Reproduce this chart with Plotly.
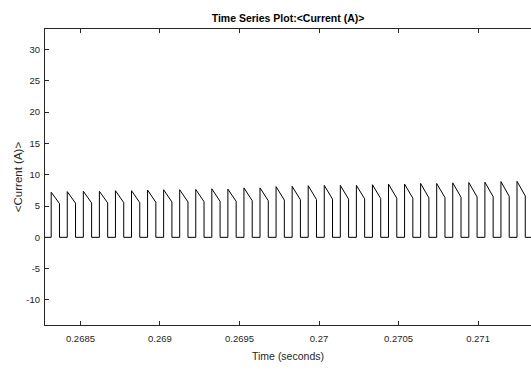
import plotly.graph_objects as go

# Pulse data
pulse_on = [0.268316, 0.268417, 0.268518, 0.268619, 0.268720, 0.268821, 0.268922,
            0.269023, 0.269124, 0.269225, 0.269326, 0.269427, 0.269528, 0.269629,
            0.269730, 0.269831, 0.269932, 0.270033, 0.270134, 0.270235, 0.270336,
            0.270437, 0.270538, 0.270639, 0.270740, 0.270841, 0.270942, 0.271043,
            0.271144, 0.271245]
pulse_off = [0.268368, 0.268469, 0.268570, 0.268671, 0.268772, 0.268873, 0.268974,
             0.269075, 0.269176, 0.269277, 0.269378, 0.269479, 0.269580, 0.269681,
             0.269782, 0.269883, 0.269984, 0.270085, 0.270186, 0.270287, 0.270388,
             0.270489, 0.270590, 0.270691, 0.270792, 0.270893, 0.270994, 0.271095,
             0.271196, 0.271297]
peak_current = [7.2, 7.3, 7.35, 7.35, 7.45, 7.45, 7.55, 7.6, 7.6, 7.65, 7.75, 7.7,
                7.9, 7.9, 8.1, 8.15, 8.25, 8.3, 8.3, 8.3, 8.4, 8.5, 8.5, 8.6, 8.6,
                8.7, 8.75, 8.8, 8.9, 8.95]
end_current = [5.4, 5.45, 5.5, 5.5, 5.55, 5.55, 5.6, 5.65, 5.65, 5.7, 5.75, 5.75,
               5.85, 5.85, 5.95, 6.0, 6.05, 6.1, 6.1, 6.15, 6.2, 6.25, 6.25, 6.3,
               6.35, 6.4, 6.45, 6.5, 6.55, 6.6]
t_start = 0.26827
t_end = 0.27134

x_ticks = [0.2685, 0.269, 0.2695, 0.27, 0.2705, 0.271]
x_tick_labels = ["0.2685", "0.269", "0.2695", "0.27", "0.2705", "0.271"]
y_ticks = [-10, -5, 0, 5, 10, 15, 20, 25, 30]
y_tick_labels = ["-10", "-5", "0", "5", "10", "15", "20", "25", "30"]

# Build the waveform
t = [t_start]
y = [0]
for on, off, pk, lo in zip(pulse_on, pulse_off, peak_current, end_current):
    t += [on, on, off, off]
    y += [0, pk, lo, 0]
t.append(t_end)
y.append(0)

fig = go.Figure()
fig.add_trace(go.Scatter(x=t, y=y, mode="lines",
                         line=dict(color="#000000", width=1),
                         showlegend=False, hoverinfo="skip"))

txt = "#262626"
font_family = "Liberation Sans, Arial, sans-serif"
fig.update_layout(
    width=531, height=373,
    margin=dict(l=45, r=0, t=29, b=48),
    paper_bgcolor="white", plot_bgcolor="white",
    font=dict(family=font_family, color=txt, size=10),
    title=dict(text="<b>Time Series Plot:&lt;Current (A)&gt;</b>",
               x=0.5, xref="paper", xanchor="center",
               y=1 - 18 / 373, yref="container", yanchor="middle",
               font=dict(size=10.5, color="#000000")),
    xaxis=dict(range=[0.268277, 0.271333], tickvals=x_ticks, ticktext=x_tick_labels,
               ticks="inside", ticklen=4, tickcolor="#262626", tickwidth=1,
               showline=True, linecolor="#262626", linewidth=1, mirror="ticks",
               showgrid=False, zeroline=False,
               tickfont=dict(size=9.5), ticklabelstandoff=5,
               title=dict(text="Time (seconds)", font=dict(size=10.5), standoff=9)),
    yaxis=dict(range=[-14.0, 33.27], tickvals=y_ticks, ticktext=y_tick_labels,
               ticks="inside", ticklen=4, tickcolor="#262626", tickwidth=1,
               showline=True, linecolor="#262626", linewidth=1, mirror=False,
               showgrid=False, zeroline=False,
               tickfont=dict(size=9.5), ticklabelstandoff=2,
               title=dict(text="&lt;Current (A)&gt;", font=dict(size=11.5), standoff=1)),
)

fig.write_html("out.html")
